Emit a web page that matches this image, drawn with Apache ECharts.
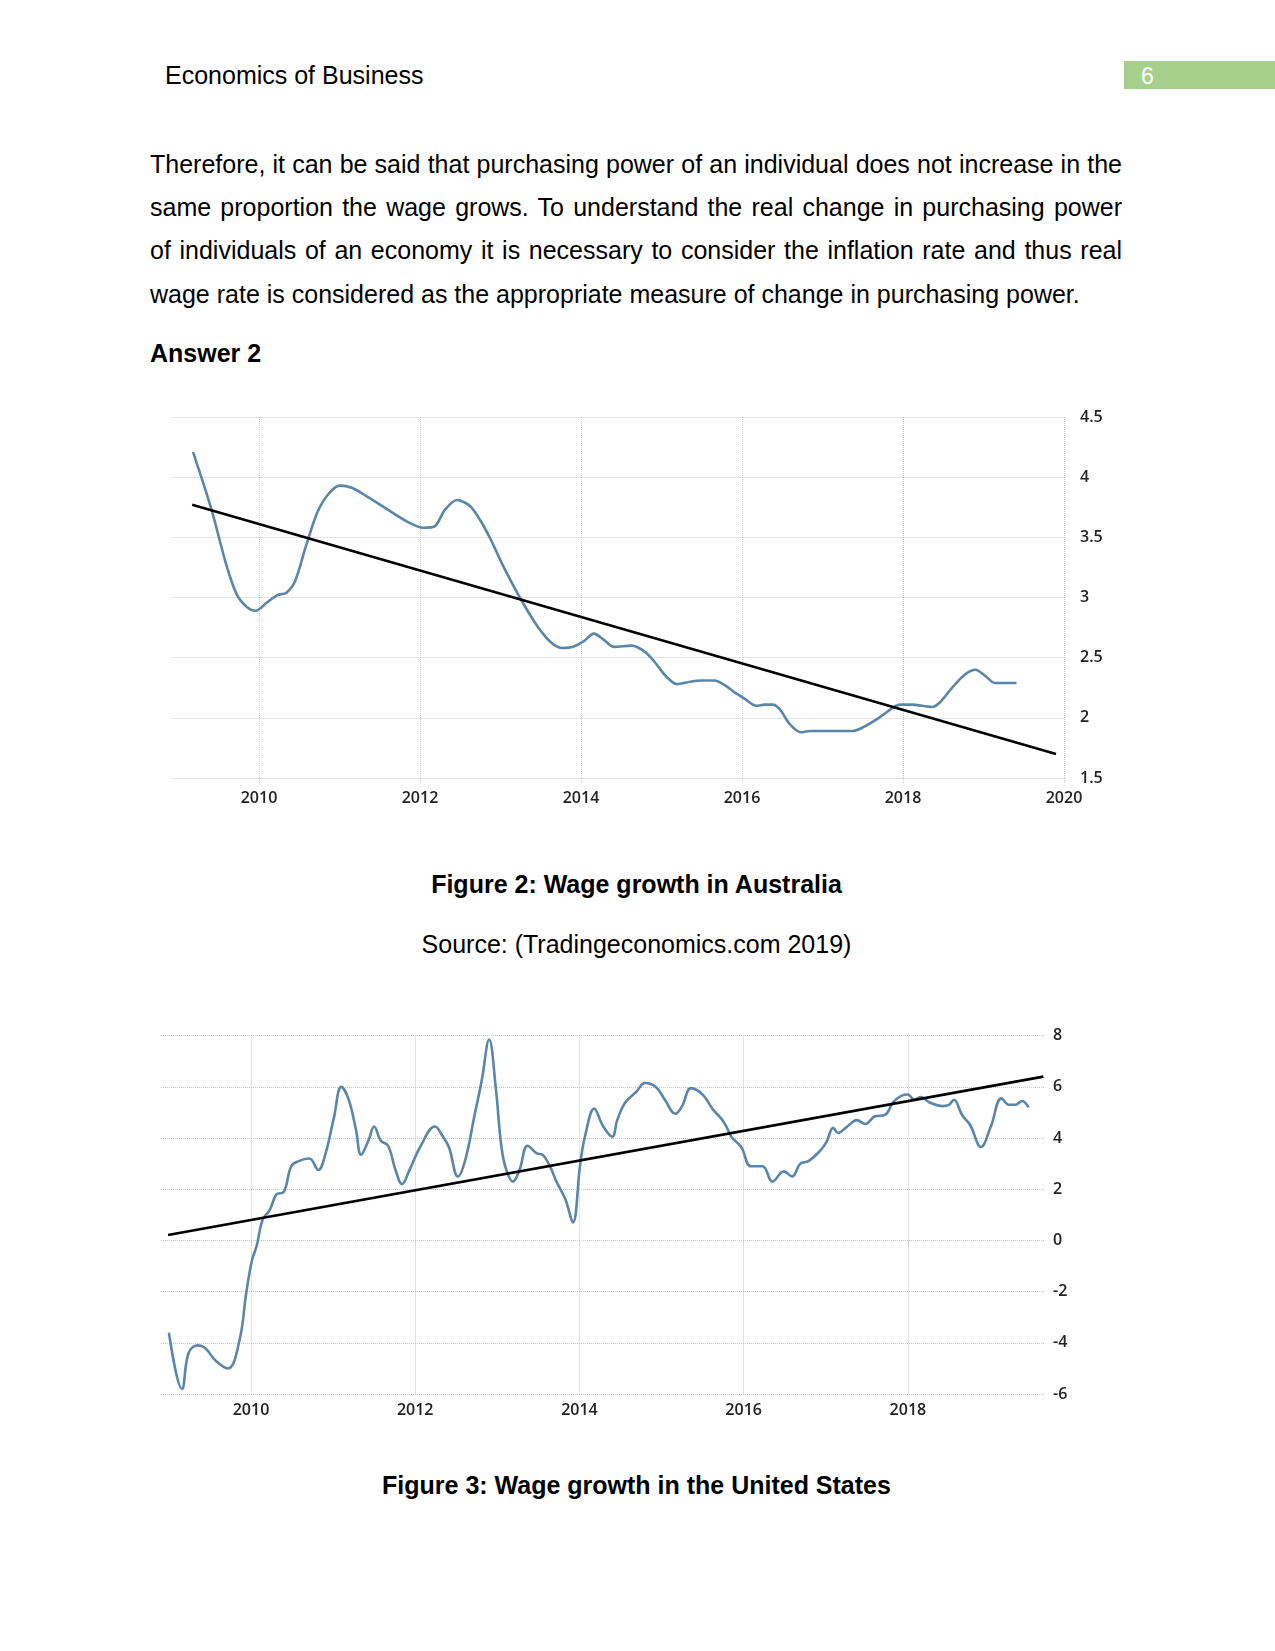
<!DOCTYPE html>
<html><head><meta charset="utf-8">
<script src="https://cdn.jsdelivr.net/npm/echarts@6/dist/echarts.min.js"></script>
<style>
html,body{margin:0;padding:0;background:#fff}
body{width:1275px;height:1651px;position:relative;overflow:hidden;font-family:"Liberation Sans",Arial,sans-serif;color:#000}
.t{position:absolute;font-size:25px;line-height:25px;white-space:nowrap}
.b{font-weight:bold}
.c{left:0;width:1273px;text-align:center}
.para{position:absolute;left:150px;top:143px;width:972px;font-size:25px}
.para div{height:43.2px;line-height:43.2px;text-align:justify;text-align-last:justify;white-space:nowrap}
.para div.last{text-align-last:left}
#pg{position:absolute;left:1124px;top:61px;width:151px;height:28px;background:#a8d08d;color:#fff;font-size:23px;line-height:28px}
#pg span{position:absolute;left:17px;top:1px}
#c1{position:absolute;left:0;top:380px;width:1275px;height:450px}
#c2{position:absolute;left:0;top:1000px;width:1275px;height:450px}
</style></head>
<body>
<div class="t" style="left:165px;top:63px">Economics of Business</div>
<div id="pg"><span>6</span></div>
<div class="para">
<div>Therefore, it can be said that purchasing power of an individual does not increase in the</div>
<div>same proportion the wage grows. To understand the real change in purchasing power</div>
<div>of individuals of an economy it is necessary to consider the inflation rate and thus real</div>
<div class="last">wage rate is considered as the appropriate measure of change in purchasing power.</div>
</div>
<div class="t b" style="left:150px;top:341px">Answer 2</div>
<div id="c1"></div>
<div class="t b c" style="top:872px">Figure 2: Wage growth in Australia</div>
<div class="t c" style="top:932px">Source: (Tradingeconomics.com 2019)</div>
<div id="c2"></div>
<div class="t b c" style="top:1473px">Figure 3: Wage growth in the United States</div>
<script>
// ---- Figure 2: Australia wage growth (% y/y) ----
const auDates = [2009.18,2009.41,2009.59,2009.72,2009.85,2009.96,2010.10,2010.23,2010.34,2010.45,2010.58,2010.72,
  2010.85,2011.00,2011.16,2011.34,2011.60,2011.87,2012.04,2012.18,2012.31,2012.46,2012.62,2012.75,2012.88,
  2013.02,2013.24,2013.46,2013.64,2013.77,2013.90,2014.04,2014.16,2014.28,2014.41,2014.63,2014.79,2014.92,
  2015.05,2015.19,2015.36,2015.50,2015.66,2015.79,2015.89,2016.03,2016.18,2016.28,2016.38,2016.47,2016.59,
  2016.73,2016.84,2016.96,2017.21,2017.37,2017.50,2017.70,2017.91,2017.99,2018.11,2018.36,2018.46,2018.61,
  2018.77,2018.90,2019.02,2019.14,2019.27,2019.41];
const auWage = [4.21,3.73,3.28,3.03,2.92,2.89,2.96,3.02,3.04,3.14,3.42,3.70,
  3.85,3.93,3.91,3.84,3.73,3.62,3.58,3.59,3.73,3.81,3.76,3.64,3.48,
  3.28,3.00,2.76,2.62,2.58,2.59,2.64,2.70,2.65,2.59,2.60,2.55,2.46,
  2.35,2.28,2.30,2.31,2.31,2.27,2.22,2.16,2.10,2.11,2.11,2.07,1.95,
  1.88,1.89,1.89,1.89,1.89,1.92,2.00,2.10,2.11,2.11,2.09,2.13,2.25,
  2.36,2.40,2.35,2.29,2.29,2.29];
const auTrendX = [2009.17, 2019.9];
const auTrendY = [3.77, 1.70];
const auYearTicks = [2010,2012,2014,2016,2018,2020];

// ---- Figure 3: United States wage growth (% y/y) ----
const usDates = [2009.00,2009.16,2009.24,2009.35,2009.44,2009.57,2009.72,2009.86,2009.94,2010.01,2010.07,2010.14,
  2010.23,2010.31,2010.40,2010.49,2010.58,2010.71,2010.82,2010.90,2011.01,2011.10,2011.19,2011.28,2011.34,
  2011.43,2011.50,2011.58,2011.67,2011.76,2011.84,2011.93,2012.06,2012.24,2012.33,2012.41,2012.52,2012.61,
  2012.72,2012.81,2012.90,2012.98,2013.05,2013.11,2013.19,2013.27,2013.37,2013.48,2013.55,2013.64,2013.72,
  2013.83,2013.92,2014.01,2014.07,2014.18,2014.29,2014.40,2014.46,2014.55,2014.69,2014.80,2014.93,2015.04,
  2015.17,2015.25,2015.36,2015.50,2015.63,2015.73,2015.79,2015.85,2015.97,2016.09,2016.23,2016.35,2016.49,
  2016.59,2016.69,2016.79,2016.93,2017.01,2017.09,2017.15,2017.26,2017.38,2017.48,2017.60,2017.72,2017.82,
  2017.92,2018.00,2018.08,2018.16,2018.26,2018.42,2018.50,2018.56,2018.66,2018.76,2018.89,2019.01,2019.14,
  2019.23,2019.31,2019.39,2019.47];
const usWage = [-3.6,-5.8,-4.4,-4.1,-4.2,-4.7,-5.0,-3.9,-2.1,-0.8,-0.2,0.8,
  1.2,1.8,1.9,2.9,3.1,3.2,2.75,3.3,4.8,6.0,5.5,4.3,3.35,
  3.9,4.45,3.9,3.7,2.75,2.2,2.75,3.65,4.45,4.1,3.65,2.5,3.15,
  4.85,6.25,7.85,6.0,3.65,2.75,2.3,2.75,3.7,3.4,3.35,2.9,2.3,
  1.6,0.7,3.0,4.1,5.15,4.45,4.05,4.7,5.35,5.8,6.15,6.0,5.5,
  4.95,5.25,5.95,5.7,5.1,4.75,4.45,4.05,3.65,2.9,2.9,2.3,2.7,
  2.5,3.0,3.1,3.5,3.85,4.4,4.2,4.45,4.7,4.55,4.85,4.9,5.4,
  5.65,5.7,5.5,5.6,5.4,5.25,5.3,5.5,4.9,4.5,3.65,4.45,5.55,
  5.3,5.3,5.45,5.2];
const usTrendX = [2008.99, 2019.65];
const usTrendY = [0.21, 6.40];
const usYearTicks = [2010,2012,2014,2016,2018];

const pairs = (xs, ys) => xs.map((x, i) => [x, ys[i]]);
const lblFont = '"Open Sans",sans-serif';
const gridStyle = {color:'#c8c8c8', type:'dotted', width:1};

function makeOption(cfg){
  return {
    animation:false,
    grid:{left:cfg.left, right:cfg.right, top:cfg.top, bottom:cfg.bottom},
    xAxis:{type:'value', min:cfg.xmin, max:cfg.xmax,
      axisLine:{show:false},
      axisTick:{show:true, customValues:cfg.ticks, length:6, lineStyle:gridStyle},
      axisLabel:{customValues:cfg.ticks, formatter:v=>String(v), margin:cfg.xmargin, color:'#222', fontFamily:lblFont, fontWeight:600, fontSize:16},
      splitLine:{show:true, lineStyle:gridStyle}},
    yAxis:{type:'value', position:'right', min:cfg.ymin, max:cfg.ymax, interval:cfg.yint,
      axisLine:{show:false}, axisTick:{show:false},
      axisLabel:{align:'left', margin:cfg.ymargin, color:'#222', fontFamily:lblFont, fontWeight:600, fontSize:16},
      splitLine:{show:true, lineStyle:gridStyle}},
    series:[
      {type:'line', data:pairs(cfg.xs, cfg.ys), smooth:cfg.smooth, showSymbol:false, symbol:'none',
        lineStyle:{color:'#5a86a8', width:2.6}, z:2},
      {type:'line', data:pairs(cfg.tx, cfg.ty), showSymbol:false, symbol:'none',
        lineStyle:{color:'#000', width:2.6}, z:3}
    ]
  };
}

echarts.init(document.getElementById('c1'), null, {renderer:'canvas'}).setOption(makeOption({
  left:171.6, right:211, top:37, bottom:52, xmin:2008.914, xmax:2020, ticks:auYearTicks, xmargin:12,
  ymin:1.5, ymax:4.5, yint:0.5, ymargin:16, smooth:0.3,
  xs:auDates, ys:auWage, tx:auTrendX, ty:auTrendY}));

echarts.init(document.getElementById('c2'), null, {renderer:'canvas'}).setOption(makeOption({
  left:161, right:230, top:35.7, bottom:56, xmin:2008.904, xmax:2019.67, ticks:usYearTicks, xmargin:8,
  ymin:-6, ymax:8, yint:2, ymargin:8, smooth:0.4,
  xs:usDates, ys:usWage, tx:usTrendX, ty:usTrendY}));
</script>
</body></html>
